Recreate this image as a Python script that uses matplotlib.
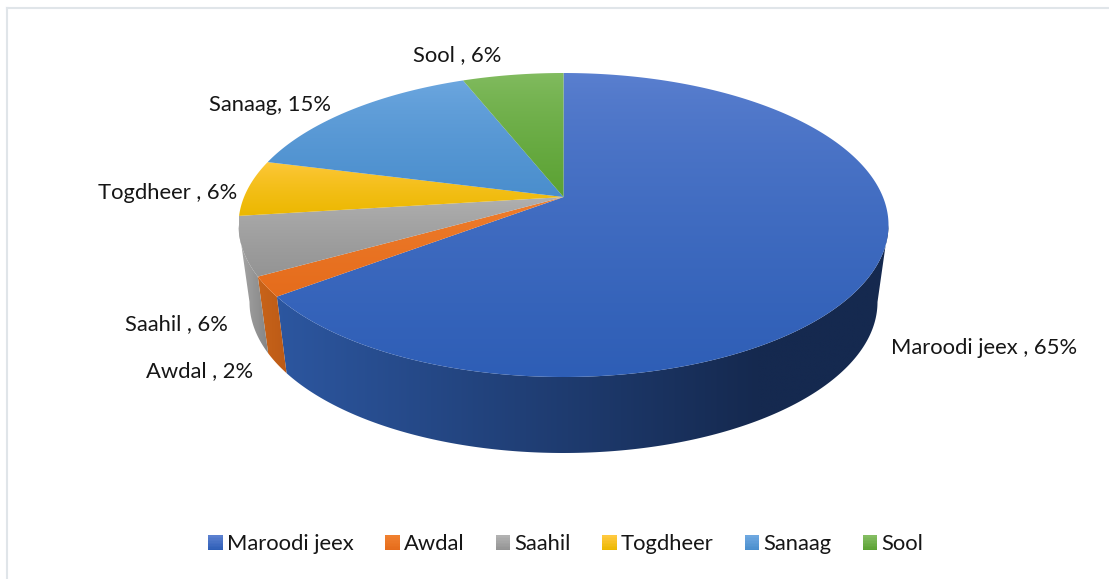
import numpy as np
import matplotlib
matplotlib.use("Agg")
import matplotlib.pyplot as plt
from matplotlib.colors import to_rgb
from matplotlib.patches import Polygon, Rectangle, Patch
from matplotlib.legend_handler import HandlerBase

plt.rcParams['font.family'] = ['Lato', 'DejaVu Sans']

categories = ["Maroodi jeex", "Awdal", "Saahil", "Togdheer", "Sanaag", "Sool"]
values = [64.7, 2.1, 6.2, 6, 15, 6]
label_texts = ["Maroodi jeex , 65%", "Awdal , 2%", "Saahil , 6%", "Togdheer , 6%", "Sanaag, 15%", "Sool , 6%"]
label_xy = [(891, 348), (146, 371), (125, 324), (98, 193), (209, 105), (413, 55)]
top_light = ["#5b80d0", "#f0802f", "#b2b2b2", "#ffc93f", "#6ea8e0", "#84bd62"]
top_dark = ["#2e5eb6", "#e56c1c", "#949494", "#ecb800", "#4a8ecd", "#5ba233"]
wall_left = ["#2e5aa6", "#c9641a", "#a8a8a8", "#a07c00", "#30608c", "#3d6d22"]
wall_right = ["#15294f", "#bb5a16", "#858585", "#a07c00", "#30608c", "#3d6d22"]

TEXT = "#161616"
FS = 15.85
W, H = 1109, 579
CX, RX, CY, RY = 563.5, 325, 225, 152      # top ellipse
RXB, CYB, RYB = 314, 302, 151              # bottom ellipse
A = 0.184                                  # perspective shift of the pie centre
F_VIS0 = np.arccos(-A) / (2 * np.pi)       # rim fraction where the side wall starts to show
F_VIS1 = 1 - F_VIS0


def project(frac, rx, cy, ry):
    ang = 2 * np.pi * np.asarray(frac)
    u, v = np.sin(ang), np.cos(ang)
    den = 1 + A * v
    return CX + rx * u * np.sqrt(1 - A ** 2) / den, cy - ry * (v + A) / den


def gradient(ax, patch, c0, c1, horizontal, extent=None, zorder=1, gamma=1.0, hold=1.0):
    ax.add_patch(patch)
    patch.set_facecolor("none")
    patch.set_edgecolor("none")
    patch.set_zorder(zorder)
    xy = patch.get_xy()
    x0, y0 = xy.min(axis=0)
    x1, y1 = xy.max(axis=0)
    if extent is not None:
        x0, x1 = extent
    t = np.clip(np.linspace(0, 1, 256) / hold, 0, 1) ** gamma
    t = t[None, :, None] if horizontal else t[:, None, None]
    img = np.array(to_rgb(c0))[None, None, :] * (1 - t) + np.array(to_rgb(c1))[None, None, :] * t
    im = ax.imshow(img, extent=(x0, x1, y1, y0), origin="upper", aspect="auto", zorder=zorder, interpolation="bilinear")
    im.set_clip_path(patch)


class GradientHandler(HandlerBase):
    def create_artists(self, legend, orig, xd, yd, width, height, fontsize, trans):
        c0, c1 = orig.grad
        n = 10
        out = []
        for i in range(n):
            t = i / (n - 1)
            col = np.array(to_rgb(c0)) * (1 - t) + np.array(to_rgb(c1)) * t
            r = Rectangle((-xd, -yd + height * (n - 1 - i) / n), width, height / n,
                          facecolor=col, edgecolor="none", antialiased=False, transform=trans)
            out.append(r)
        return out


fig = plt.figure(figsize=(W / 100, H / 100), dpi=100, facecolor="white")
ax = fig.add_axes([0, 0, 1, 1])
ax.axis("off")

bounds = np.concatenate([[0], np.cumsum(values)]) / np.sum(values)

# side walls: only the part of the rim facing the viewer
for i in range(len(values)):
    lo, hi = max(bounds[i], F_VIS0), min(bounds[i + 1], F_VIS1)
    if lo >= hi:
        continue
    f = np.linspace(lo, hi, 200)
    tx, ty = project(f, RX, CY, RY)
    bx, by = project(f, RXB, CYB, RYB)
    poly = Polygon(np.column_stack([np.r_[tx, bx[::-1]], np.r_[ty, by[::-1]]]), closed=True)
    if i == 0:
        gradient(ax, poly, wall_left[i], wall_right[i], True, extent=(CX - RX, CX + RX), zorder=1, hold=0.8)
    else:
        gradient(ax, poly, wall_left[i], wall_right[i], True, zorder=1)

# top faces
ax_x, ax_y = CX, CY - RY * A
for i in range(len(values)):
    f = np.linspace(bounds[i], bounds[i + 1], 300)
    tx, ty = project(f, RX, CY, RY)
    poly = Polygon(np.column_stack([np.r_[ax_x, tx], np.r_[ax_y, ty]]), closed=True)
    gradient(ax, poly, top_light[i], top_dark[i], False, zorder=2, gamma=0.7)

# data labels
for txt, (x, y) in zip(label_texts, label_xy):
    ax.text(x, y, txt, fontsize=FS, color=TEXT, ha="left", va="center", zorder=5)

# frame
ax.plot([7, 7], [8, H], color="#e0e5e9", lw=1.5, zorder=0)
ax.plot([7, W], [8, 8], color="#e0e5e9", lw=1.5, zorder=0)

# legend
handles = []
for c, c0, c1 in zip(categories, top_light, top_dark):
    p = Patch(label=c)
    p.grad = (c0, c1)
    handles.append(p)
leg = ax.legend(handles=handles, ncol=6, loc="center", bbox_to_anchor=(566 / W, 1 - 544.5 / H),
                bbox_transform=ax.transAxes, frameon=False, fontsize=FS,
                handler_map={Patch: GradientHandler()}, handlelength=0.66, handleheight=0.66,
                handletextpad=0.2, columnspacing=1.41, labelcolor=TEXT)

ax.set_xlim(0, W)
ax.set_ylim(H, 0)
fig.savefig("out.png", dpi=100, facecolor="white")
